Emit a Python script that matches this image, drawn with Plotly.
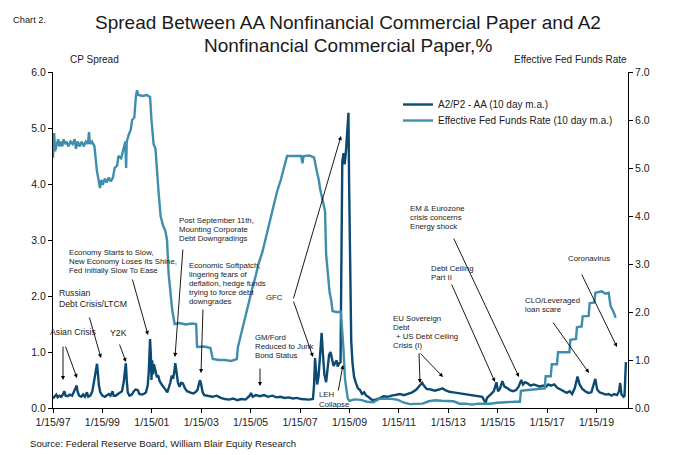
import plotly.graph_objects as go

# ---------------- data ----------------
spread_dates = [
    "1997-01-15", "1997-02-10", "1997-03-05", "1997-03-25", "1997-04-20", "1997-05-15", "1997-06-10",
    "1997-07-01", "1997-07-20", "1997-08-20", "1997-09-20", "1997-10-25", "1997-11-20", "1997-12-15",
    "1997-12-31", "1998-01-12", "1998-02-05", "1998-03-10", "1998-04-05", "1998-05-01", "1998-06-01",
    "1998-06-20", "1998-07-20", "1998-08-20", "1998-09-15", "1998-10-01", "1998-10-15", "1998-10-28",
    "1998-11-10", "1998-11-25", "1998-12-15", "1999-01-15", "1999-02-20", "1999-03-25", "1999-04-20",
    "1999-05-15", "1999-06-15", "1999-07-01", "1999-08-01", "1999-09-01", "1999-10-01", "1999-11-01",
    "1999-11-25", "1999-12-10", "1999-12-28", "2000-01-10", "2000-01-25", "2000-02-20", "2000-03-25",
    "2000-04-25", "2000-05-20", "2000-06-20", "2000-07-15", "2000-08-20", "2000-09-20", "2000-10-20",
    "2000-11-15", "2000-12-01", "2000-12-20", "2001-01-01", "2001-01-10", "2001-01-20", "2001-02-01",
    "2001-02-15", "2001-03-01", "2001-03-15", "2001-04-01", "2001-04-20", "2001-05-10", "2001-06-10",
    "2001-07-10", "2001-08-10", "2001-09-01", "2001-09-25", "2001-10-15", "2001-11-05", "2001-11-25",
    "2001-12-10", "2001-12-28", "2002-01-15", "2002-02-05", "2002-03-01", "2002-03-25", "2002-04-20",
    "2002-05-20", "2002-06-20", "2002-07-20", "2002-08-20", "2002-09-20", "2002-10-20", "2002-11-20",
    "2002-12-10", "2002-12-28", "2003-01-15", "2003-02-05", "2003-03-01", "2003-05-01", "2003-07-01",
    "2003-09-01", "2003-11-01", "2004-01-01", "2004-03-01", "2004-05-01", "2004-07-01", "2004-09-01",
    "2004-11-01", "2005-01-01", "2005-01-20", "2005-02-15", "2005-04-01", "2005-06-01", "2005-08-01",
    "2005-10-01", "2005-12-01", "2006-02-01", "2006-04-01", "2006-06-01", "2006-08-01", "2006-10-01",
    "2006-12-01", "2007-02-01", "2007-04-01", "2007-06-01", "2007-07-25", "2007-08-10", "2007-08-25",
    "2007-09-10", "2007-09-25", "2007-10-15", "2007-11-10", "2007-12-01", "2007-12-15", "2008-01-10",
    "2008-02-05", "2008-03-01", "2008-03-20", "2008-04-10", "2008-05-01", "2008-05-25", "2008-06-15",
    "2008-07-10", "2008-07-25", "2008-08-15", "2008-09-05", "2008-09-20", "2008-10-01", "2008-10-20",
    "2008-11-05", "2008-11-25", "2008-12-10", "2008-12-31", "2009-01-10", "2009-01-25", "2009-02-10",
    "2009-03-01", "2009-03-25", "2009-04-20", "2009-05-20", "2009-06-20", "2009-07-20", "2009-08-20",
    "2009-09-20", "2009-10-20", "2009-11-20", "2009-12-20", "2010-02-01", "2010-04-01", "2010-06-01",
    "2010-08-01", "2010-10-01", "2010-12-01", "2011-02-01", "2011-04-01", "2011-06-01", "2011-08-01",
    "2011-10-01", "2011-11-20", "2011-12-25", "2012-01-20", "2012-03-01", "2012-05-01", "2012-07-01",
    "2012-09-01", "2012-10-20", "2012-12-01", "2013-02-01", "2013-04-01", "2013-06-01", "2013-08-01",
    "2013-10-01", "2013-12-01", "2014-02-01", "2014-04-01", "2014-06-01", "2014-07-20", "2014-08-10",
    "2014-10-01", "2014-11-20", "2014-12-28", "2015-01-20", "2015-02-20", "2015-03-25", "2015-04-25",
    "2015-06-01", "2015-07-15", "2015-09-01", "2015-10-15", "2015-11-20", "2015-12-31", "2016-01-25",
    "2016-02-25", "2016-04-01", "2016-05-15", "2016-07-01", "2016-08-20", "2016-10-01", "2016-11-15",
    "2016-12-31", "2017-02-01", "2017-03-15", "2017-05-01", "2017-06-15", "2017-08-01", "2017-09-15",
    "2017-11-01", "2017-12-15", "2018-01-20", "2018-03-01", "2018-04-10", "2018-05-10", "2018-06-20",
    "2018-08-01", "2018-09-15", "2018-11-01", "2018-12-28", "2019-01-25", "2019-03-01", "2019-04-15",
    "2019-06-01", "2019-07-15", "2019-08-25", "2019-10-01", "2019-11-15", "2019-12-15", "2019-12-31",
    "2020-01-20", "2020-02-20", "2020-03-05", "2020-03-25",
]
spread_values = [
    0.17, 0.20, 0.24, 0.19, 0.22, 0.20, 0.24,
    0.30, 0.22, 0.21, 0.24, 0.22, 0.28, 0.36,
    0.40, 0.30, 0.22, 0.20, 0.24, 0.20, 0.28,
    0.20, 0.22, 0.30, 0.50, 0.55, 0.68, 0.79,
    0.62, 0.40, 0.28, 0.22, 0.20, 0.22, 0.25,
    0.22, 0.30, 0.22, 0.22, 0.25, 0.28, 0.30,
    0.45, 0.62, 0.80, 0.50, 0.28, 0.22, 0.24,
    0.30, 0.33, 0.32, 0.25, 0.24, 0.25, 0.28,
    0.40, 0.65, 1.23, 0.95, 0.50, 0.85, 0.60,
    0.78, 0.70, 0.62, 0.55, 0.58, 0.48, 0.42,
    0.38, 0.32, 0.28, 0.36, 0.45, 0.58, 0.52,
    0.62, 0.80, 0.65, 0.45, 0.38, 0.45, 0.44,
    0.35, 0.30, 0.28, 0.27, 0.26, 0.28, 0.32,
    0.42, 0.50, 0.42, 0.28, 0.23, 0.22, 0.20,
    0.22, 0.18, 0.16, 0.15, 0.17, 0.14, 0.16,
    0.15, 0.22, 0.27, 0.20, 0.23, 0.21, 0.23,
    0.20, 0.22, 0.19, 0.20, 0.18, 0.19, 0.17,
    0.18, 0.16, 0.15, 0.15, 0.16, 0.40, 0.89,
    0.70, 0.42, 0.55, 0.95, 1.34, 1.05, 0.60,
    0.46, 0.70, 0.95, 1.00, 0.85, 0.75, 0.80,
    0.85, 0.74, 0.80, 0.82, 2.50, 4.40, 4.55,
    4.35, 4.60, 4.90, 5.27, 4.00, 2.30, 1.20,
    0.80, 0.55, 0.45, 0.35, 0.32, 0.25, 0.28,
    0.22, 0.20, 0.16, 0.14, 0.15, 0.17, 0.21,
    0.20, 0.22, 0.23, 0.25, 0.23, 0.26, 0.28,
    0.33, 0.40, 0.45, 0.40, 0.34, 0.33, 0.31,
    0.33, 0.35, 0.32, 0.29, 0.28, 0.27, 0.26,
    0.25, 0.24, 0.23, 0.22, 0.20, 0.09, 0.18,
    0.24, 0.30, 0.46, 0.30, 0.35, 0.48, 0.38,
    0.36, 0.32, 0.30, 0.32, 0.38, 0.50, 0.42,
    0.46, 0.44, 0.40, 0.42, 0.40, 0.38, 0.40,
    0.38, 0.42, 0.40, 0.42, 0.36, 0.33, 0.30,
    0.27, 0.30, 0.25, 0.36, 0.56, 0.42, 0.34,
    0.30, 0.27, 0.28, 0.52, 0.33, 0.28, 0.26,
    0.24, 0.25, 0.22, 0.25, 0.23, 0.30, 0.45,
    0.24, 0.20, 0.22, 0.82,
]

ffr_dates = [
    "1997-01-15", "1997-02-01", "1997-02-15", "1997-03-10", "1997-04-01", "1997-04-20", "1997-05-10",
    "1997-06-01", "1997-06-20", "1997-07-10", "1997-08-01", "1997-09-01", "1997-10-01", "1997-11-01",
    "1997-12-01", "1997-12-20", "1998-01-15", "1998-02-15", "1998-03-15", "1998-04-15", "1998-05-15",
    "1998-06-15", "1998-07-01", "1998-07-15", "1998-08-15", "1998-09-20", "1998-10-10", "1998-10-25",
    "1998-11-20", "1998-12-10", "1998-12-31", "1999-01-20", "1999-02-20", "1999-03-20", "1999-04-20",
    "1999-05-20", "1999-06-20", "1999-07-15", "1999-08-20", "1999-09-10", "1999-10-20", "1999-11-25",
    "1999-12-20", "2000-01-01", "2000-01-10", "2000-02-10", "2000-03-10", "2000-03-30", "2000-05-01",
    "2000-05-25", "2000-06-10", "2000-07-01", "2000-09-01", "2000-11-01", "2000-12-20", "2001-01-10",
    "2001-02-10", "2001-03-10", "2001-03-28", "2001-04-25", "2001-05-25", "2001-06-30", "2001-08-01",
    "2001-08-28", "2001-09-20", "2001-10-10", "2001-11-12", "2001-12-18", "2002-03-01", "2002-06-01",
    "2002-09-01", "2002-11-01", "2002-11-15", "2003-03-01", "2003-06-01", "2003-07-05", "2003-10-01",
    "2004-01-01", "2004-04-01", "2004-06-25", "2004-07-10", "2004-08-20", "2004-09-30", "2004-11-20",
    "2004-12-22", "2005-02-10", "2005-03-30", "2005-05-10", "2005-07-08", "2005-08-18", "2005-09-28",
    "2005-11-10", "2005-12-22", "2006-02-08", "2006-04-05", "2006-05-18", "2006-07-08", "2006-10-01",
    "2007-01-01", "2007-02-01", "2007-02-20", "2007-03-10", "2007-06-01", "2007-08-10", "2007-09-25",
    "2007-10-20", "2007-11-10", "2007-12-20", "2008-01-20", "2008-02-05", "2008-02-20", "2008-03-28",
    "2008-04-20", "2008-05-10", "2008-07-01", "2008-09-10", "2008-10-15", "2008-11-10", "2008-12-20",
    "2009-01-15", "2009-04-01", "2009-07-01", "2009-10-01", "2010-01-01", "2010-04-01", "2010-07-01",
    "2010-10-01", "2011-01-01", "2011-04-01", "2011-07-01", "2011-10-01", "2012-01-01", "2012-04-01",
    "2012-07-01", "2012-10-01", "2013-01-01", "2013-04-01", "2013-07-01", "2013-10-01", "2014-01-01",
    "2014-04-01", "2014-07-01", "2014-10-01", "2015-01-01", "2015-04-01", "2015-07-01", "2015-10-01",
    "2015-12-10", "2015-12-25", "2016-03-01", "2016-06-01", "2016-09-01", "2016-12-10", "2016-12-25",
    "2017-03-10", "2017-03-25", "2017-06-10", "2017-06-25", "2017-12-10", "2017-12-25", "2018-03-18",
    "2018-04-01", "2018-06-10", "2018-06-25", "2018-09-22", "2018-10-05", "2018-12-15", "2018-12-30",
    "2019-04-01", "2019-06-01", "2019-07-15", "2019-08-10", "2019-09-25", "2019-10-25",
]
ffr_values = [
    5.21, 5.73, 5.35, 5.50, 5.60, 5.45, 5.55,
    5.45, 5.60, 5.50, 5.55, 5.45, 5.55, 5.50,
    5.60, 5.40, 5.55, 5.45, 5.55, 5.45, 5.55,
    5.50, 5.75, 5.50, 5.55, 5.45, 5.10, 4.95,
    4.75, 4.58, 4.75, 4.65, 4.78, 4.70, 4.80,
    4.72, 4.80, 5.00, 5.05, 5.25, 5.20, 5.45,
    5.55, 5.00, 5.55, 5.70, 5.80, 6.00, 6.05,
    6.50, 6.62, 6.52, 6.50, 6.52, 6.48, 6.00,
    5.50, 5.40, 5.00, 4.50, 4.00, 3.80, 3.70,
    3.50, 2.80, 2.50, 2.05, 1.75, 1.77, 1.74,
    1.76, 1.75, 1.27, 1.28, 1.25, 1.02, 1.00,
    1.00, 0.98, 1.02, 1.26, 1.50, 1.75, 2.00,
    2.25, 2.50, 2.75, 3.00, 3.25, 3.50, 3.75,
    4.00, 4.25, 4.50, 4.75, 5.00, 5.25, 5.25,
    5.25, 5.25, 5.10, 5.25, 5.26, 5.22, 4.90,
    4.75, 4.55, 4.30, 4.10, 3.20, 3.00, 2.40,
    2.25, 2.02, 2.00, 2.00, 1.30, 0.60, 0.20,
    0.15, 0.18, 0.17, 0.13, 0.12, 0.19, 0.19,
    0.19, 0.17, 0.11, 0.08, 0.08, 0.09, 0.14,
    0.16, 0.15, 0.15, 0.14, 0.09, 0.09, 0.07,
    0.09, 0.09, 0.09, 0.11, 0.12, 0.13, 0.13,
    0.13, 0.36, 0.37, 0.38, 0.40, 0.41, 0.66,
    0.66, 0.91, 0.91, 1.16, 1.16, 1.42, 1.44,
    1.68, 1.70, 1.91, 1.92, 2.18, 2.20, 2.40,
    2.43, 2.38, 2.40, 2.13, 2.00, 1.88,
]

x_tick_vals = ["1997-01-15", "1999-01-15", "2001-01-15", "2003-01-15", "2005-01-15", "2007-01-15",
               "2009-01-15", "2011-01-15", "2013-01-15", "2015-01-15", "2017-01-15", "2019-01-15"]
x_tick_text = ["1/15/97", "1/15/99", "1/15/01", "1/15/03", "1/15/05", "1/15/07",
               "1/15/09", "1/15/11", "1/15/13", "1/15/15", "1/15/17", "1/15/19"]
left_ticks = [0, 1, 2, 3, 4, 5, 6]
right_ticks = [0, 1, 2, 3, 4, 5, 6, 7]

# ---------------- layout helpers ----------------
W, H = 678, 455
L, R, T, B = 53, 628, 72, 408
FONT = "Liberation Sans, Arial, sans-serif"


def pxx(x):
    return (x - L) / (R - L)


def pxy(y):
    return (B - y) / (B - T)


fig = go.Figure()
fig.add_trace(go.Scatter(x=spread_dates, y=spread_values, mode="lines",
                         name="A2/P2 - AA (10 day m.a.)", legend="legend",
                         line=dict(color="#0c4a72", width=2.4), yaxis="y"))
fig.add_trace(go.Scatter(x=ffr_dates, y=ffr_values, mode="lines",
                         name="Effective Fed Funds Rate (10 day m.a.)", legend="legend2",
                         line=dict(color="#3f8eab", width=2.4), yaxis="y2"))

annotations = []


def text(x, y, s, size=7.8, anchor="left"):
    annotations.append(dict(xref="paper", yref="paper", x=pxx(x), y=pxy(y), text=s,
                            showarrow=False, xanchor=anchor, yanchor="middle",
                            font=dict(family=FONT, size=size, color="#1a1a1a")))


def arrow(tx, ty, hx, hy):
    annotations.append(dict(xref="paper", yref="paper", x=pxx(hx), y=pxy(hy), text="",
                            showarrow=True, axref="pixel", ayref="pixel",
                            ax=tx - hx, ay=ty - hy, arrowhead=2, arrowsize=0.9,
                            arrowwidth=0.9, arrowcolor="#000000", standoff=0))


# event labels
text(48, 332, "Asian Crisis", 8.7)
text(57, 293, "Russian", 8.7)
text(57, 304, "Debt Crisis/LTCM", 8.7)
text(108, 333, "Y2K", 8.7)
for i, s in enumerate(["Economy Starts to Slow,", "New Economy Loses Its Shine,", "Fed Initially Slow To Ease"]):
    text(67, 252 + 9 * i, s)
for i, s in enumerate(["Post September 11th,", "Mounting Corporate", "Debt Downgradings"]):
    text(177, 220 + 9 * i, s)
for i, s in enumerate(["Economic Softpatch,", "lingering fears of", "deflation, hedge funds",
                       "trying to force debt", "downgrades"]):
    text(187, 265 + 9 * i, s)
for i, s in enumerate(["GM/Ford", "Reduced to Junk", "Bond Status"]):
    text(253, 337 + 9 * i, s)
text(264, 297, "GFC")
text(317, 394, "LEH")
text(317, 404, "Collapse")
text(391, 318, "EU Sovereign")
text(391, 327, "Debt")
text(394, 336, "+ US Debt Ceiling")
text(391, 345, "Crisis (I)")
text(429, 268, "Debt Ceiling")
text(429, 277, "Part II")
for i, s in enumerate(["EM & Eurozone", "crisis concerns", "Energy shock"]):
    text(408, 208 + 9 * i, s)
text(523, 300, "CLO/Leveraged")
text(523, 309, "loan scare")
text(566, 258, "Coronavirus")

# arrows
arrow(63, 345, 63, 380)
arrow(65, 345, 77, 378)
arrow(89, 316, 101, 358)
arrow(119, 343, 126, 362)
arrow(132, 278, 148, 335)
arrow(183, 248, 175, 357)
arrow(203, 308, 201, 373)
arrow(260, 367, 260, 386)
arrow(293, 300, 313, 357)
arrow(293, 300, 341, 136)
arrow(338, 392, 343, 365)
arrow(419, 352, 420, 383)
arrow(419, 352, 443, 377)
arrow(451, 283, 495, 382)
arrow(453, 237, 519, 377)
arrow(552, 321, 589, 373)
arrow(581, 273, 617, 347)

# titles and axis captions
text(11, 20, "Chart 2.", 9.3)
text(348, 22, "Spread Between AA Nonfinancial Commercial Paper and A2", 19, "center")
text(348, 45, "Nonfinancial Commercial Paper,%", 19, "center")
text(68, 60, "CP Spread", 10)
text(629, 60, "Effective Fed Funds Rate", 10, "right")
text(28, 443, "Source: Federal Reserve Board, William Blair Equity Research", 9.6)

axis_common = dict(showgrid=False, zeroline=False, showline=True, linecolor="#000000",
                   linewidth=1, ticks="outside", ticklen=4, tickcolor="#000000",
                   tickfont=dict(family=FONT, size=10.5, color="#1a1a1a"))

legend_common = dict(xanchor="left", yanchor="top", itemwidth=30,
                     font=dict(family=FONT, size=10, color="#1a1a1a"),
                     bgcolor="rgba(0,0,0,0)")

fig.update_layout(
    width=W, height=H,
    margin=dict(l=L, r=W - R, t=T, b=H - B),
    paper_bgcolor="white", plot_bgcolor="white",
    showlegend=True,
    legend=dict(x=pxx(398), y=pxy(90), **legend_common),
    legend2=dict(x=pxx(398), y=pxy(106), **legend_common),
    xaxis=dict(type="date", range=["1997-01-15", "2020-04-25"], tickvals=x_tick_vals,
               ticktext=x_tick_text, **axis_common),
    yaxis=dict(range=[0, 6], tickvals=left_ticks, tickformat=".1f", **axis_common),
    yaxis2=dict(range=[0, 7], tickvals=right_ticks, tickformat=".1f", overlaying="y",
                side="right", **axis_common),
    annotations=annotations,
)

fig.write_html("out.html")
